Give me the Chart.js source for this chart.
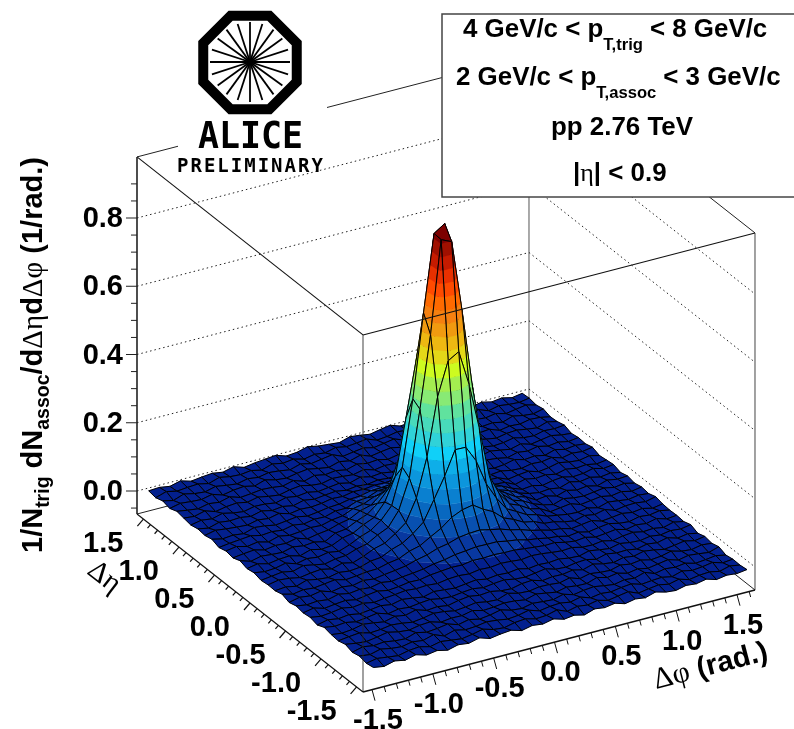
<!DOCTYPE html>
<html>
<head>
<meta charset="utf-8">
<title>ALICE preliminary correlation</title>
<script src="https://cdn.jsdelivr.net/npm/chart.js@4"></script>
<style>
	html, body { margin: 0; padding: 0; background: #fff; }
	canvas { display: block; }
</style>
</head>
<body>
<canvas id="surface-chart" width="794" height="729"></canvas>
<script>
//////////////////////////////////////////
// DATA (background noise is an estimate)
//////////////////////////////////////////

// Delta phi of the mesh nodes (rad.)
var phi_nodes = [-1.535,-1.448,-1.361,-1.274,-1.187,-1.1,-1.012,-0.925,-0.838,-0.751,-0.664,-0.577,-0.49,-0.403,-0.316,-0.229,-0.142,-0.055,0.032,0.116,0.199,0.283,0.366,0.45,0.533,0.617,0.7,0.784,0.867,0.951,1.034,1.118,1.201,1.285,1.368,1.452,1.535];
// Delta eta of the mesh nodes
var eta_nodes = [-1.67,-1.571,-1.472,-1.374,-1.275,-1.176,-1.077,-0.978,-0.88,-0.781,-0.682,-0.583,-0.484,-0.386,-0.287,-0.188,-0.089,0.01,0.108,0.207,0.306,0.405,0.504,0.602,0.701,0.8,0.899,0.998,1.096,1.195,1.294,1.393,1.492];
// Yield at each node in units of 0.001 / rad. One row per eta node, one column per phi node
var yield_rows = [
	[14,9,17,11,19,10,15,8,16,12,20,10,15,18,9,16,12,19,10,14,7,17,13,18,9,15,11,20,12,9,16,13,19,10,15,12,16],
	[10,16,12,8,15,18,10,17,13,9,14,21,12,9,16,19,11,13,21,9,16,12,18,10,15,20,8,13,17,11,18,9,14,16,10,18,13],
	[15,11,19,13,10,16,12,21,9,18,11,13,18,15,10,13,20,10,15,17,12,19,9,14,11,16,19,10,13,15,9,18,12,15,20,11,14],
	[10,18,13,16,11,9,19,12,15,20,10,17,10,14,21,12,9,16,13,11,19,10,15,18,13,9,15,12,21,10,16,13,17,9,12,16,10],
	[17,12,9,14,20,13,10,16,18,9,13,12,19,11,13,17,15,10,19,14,9,16,12,11,21,13,18,10,15,9,14,19,10,16,13,9,18],
	[11,15,18,10,12,17,14,9,13,19,16,10,13,18,12,10,21,13,11,16,15,12,19,9,16,12,10,18,13,17,10,13,20,12,9,15,12],
	[13,9,12,19,15,10,18,13,21,11,14,9,16,20,15,18,12,10,17,19,10,14,13,18,11,20,13,9,16,12,19,15,9,13,18,11,16],
	[18,13,16,10,14,19,9,15,12,16,19,13,11,15,18,13,17,20,14,12,16,21,12,10,15,17,10,18,13,14,9,16,12,19,10,15,9],
	[9,16,11,15,9,13,17,12,19,15,10,18,15,12,16,20,14,18,16,20,13,17,15,18,13,11,19,14,10,17,12,10,15,11,16,13,18],
	[15,10,13,18,12,16,10,14,17,21,18,20,17,22,24,21,26,24,28,26,23,27,25,21,18,20,13,12,16,9,15,18,12,14,9,17,11],
	[12,18,9,13,16,10,15,19,13,16,21,20,26,29,32,31,36,35,37,35,35,31,28,25,26,19,15,18,11,14,18,10,16,12,19,10,13],
	[16,11,14,10,18,12,16,13,20,15,20,23,27,34,38,45,48,52,51,51,45,41,33,29,23,20,13,17,10,15,19,12,9,16,13,18,12],
	[10,17,13,19,9,15,11,18,14,19,23,28,37,44,55,61,71,75,77,70,64,54,47,37,30,22,19,11,15,19,10,13,17,12,16,9,14],
	[18,10,15,12,16,20,12,15,19,20,28,33,47,55,73,90,114,128,134,114,99,73,61,45,39,26,23,15,10,18,13,20,10,15,16,12,19],
	[12,15,9,19,13,10,17,13,16,26,29,44,54,74,100,158,218,288,287,240,165,115,76,60,43,35,23,18,13,11,16,9,18,14,10,15,12],
	[13,19,16,10,15,18,11,20,13,24,38,46,66,90,154,266,434,532,551,448,314,164,103,66,54,36,29,12,16,20,10,14,18,12,17,10,15],
	[10,14,18,12,21,15,9,16,18,29,36,54,68,110,196,390,600,871,857,650,425,230,117,78,53,43,27,16,9,19,13,11,15,19,13,17,10],
	[16,11,13,20,10,17,13,19,14,25,40,51,73,108,212,404,648,873,894,682,458,236,128,75,58,39,31,14,18,10,19,12,16,9,18,13,15],
	[12,18,10,15,17,9,19,12,15,29,35,52,65,102,169,332,500,650,655,545,358,198,105,73,51,41,26,17,12,15,10,20,13,18,11,15,9],
	[19,9,16,13,11,19,14,17,10,27,31,46,58,82,116,198,296,386,390,323,207,134,85,66,45,38,24,13,16,9,15,18,11,13,20,12,16],
	[11,15,18,10,15,13,20,10,16,20,30,36,52,60,85,108,150,172,181,149,120,86,68,50,42,27,25,11,19,13,16,10,17,12,15,9,13],
	[15,20,12,17,9,18,12,15,19,17,25,29,42,48,61,69,84,91,96,83,76,59,52,39,34,23,22,10,15,18,9,13,20,14,11,17,10],
	[9,13,16,19,12,15,11,18,13,19,18,27,27,39,42,54,55,60,56,59,51,47,37,34,24,23,15,18,12,10,16,14,19,10,16,13,18],
	[17,10,13,9,19,16,10,14,18,12,16,21,23,29,31,38,39,42,40,41,36,33,27,25,20,15,16,10,13,20,12,15,9,18,11,15,12],
	[12,19,15,12,10,17,13,20,11,16,14,17,23,21,27,26,30,29,32,29,29,24,21,22,14,16,11,18,15,9,17,13,19,12,16,10,14],
	[15,9,18,14,16,11,19,12,16,10,18,13,17,20,15,19,16,21,18,20,16,19,14,17,10,18,13,12,20,15,10,18,9,14,19,13,10],
	[10,16,12,20,13,9,16,15,10,18,13,17,11,15,19,12,21,14,17,12,18,13,20,10,15,18,9,14,16,11,13,19,12,10,17,15,18],
	[14,11,19,9,15,18,12,19,13,9,16,20,13,10,17,15,12,19,10,15,13,20,11,16,14,9,18,12,21,15,10,16,18,13,9,19,12],
	[18,13,9,16,12,20,10,13,17,15,11,19,9,18,12,16,10,19,13,16,9,15,18,12,10,19,15,11,13,17,20,9,14,12,18,16,10],
	[10,17,14,12,19,9,15,18,11,21,13,10,16,20,14,9,18,12,21,10,15,19,13,17,9,14,20,16,10,18,12,15,9,19,13,10,17],
	[16,9,20,13,10,18,13,9,16,12,18,15,10,19,12,17,22,9,14,18,11,16,21,10,13,18,12,15,19,9,16,13,18,10,15,20,12],
	[9,19,12,15,17,10,20,14,12,16,9,19,13,17,9,15,11,19,13,16,20,9,12,18,15,10,19,13,9,16,12,21,10,17,13,11,16],
	[13,15,10,18,9,13,16,11,19,9,14,17,20,10,13,21,15,12,9,18,15,10,16,21,11,14,9,18,12,15,10,13,19,12,16,9,14]
];
var z_tick_labels = ["0.0","0.2","0.4","0.6","0.8"];
var eta_tick_labels = ["-1.5","-1.0","-0.5","0.0","0.5","1.0","1.5"];
var phi_tick_labels = ["-1.5","-1.0","-0.5","0.0","0.5","1.0","1.5"];

// Colour bands of the surface
var band_edges = [0.035,0.0725,0.11,0.1475,0.185,0.2225,0.26,0.2975,0.335,0.3725,0.41,0.4475,0.485,0.5225,0.56,0.5975,0.635,0.6725,0.71,0.7475,0.785,0.8225,0.86];
var band_colors = ["#03208e","#0838a0","#0850b0","#0868c0","#0a80d0","#0c96dc","#0eaee8","#10d0f8","#30d2d8","#48dabb","#60e29e","#88ea75","#a4ee50","#cdfb20","#e4d818","#eeb812","#f09a10","#f58010","#ff6a00","#ff4a00","#e83000","#c51b00","#a01000","#7d0000"];

//////////////////////////////////////////
// PROJECTION
//////////////////////////////////////////
var phi_min = -1.574, phi_max = 1.648;
var eta_min = -1.59, eta_max = 1.59;
var z_min = -0.0674, z_max = 0.979;
var SANS = '"Liberation Sans", Arial, sans-serif';
var SERIF = '"Liberation Serif", serif';

// Oblique view of the box, gives a point in the 794x729 view plane
function project(phi,eta,z) {
	return {
		x: 363 + (phi - phi_min)*121.66 - (eta - eta_min)*71.07,
		y: 692 - (phi - phi_min)*31.66 - (eta - eta_min)*55.97 - (z - z_min)*341.25
	};
}

// Keep the part of a node polygon that lies on the wanted side of a z level
function clipPolygon(poly,level,keepAbove) {
	var out = [];
	for (var i = 0; i < poly.length; i++) {
		var a = poly[i];
		var b = poly[(i + 1) % poly.length];
		var a_in = keepAbove ? a.z >= level : a.z <= level;
		var b_in = keepAbove ? b.z >= level : b.z <= level;
		if (a_in) out.push(a);
		if (a_in !== b_in) {
			var t = (level - a.z)/(b.z - a.z);
			out.push({ phi: a.phi + t*(b.phi - a.phi), eta: a.eta + t*(b.eta - a.eta), z: level });
		}
	}
	return out;
}

function toPlane(poly) {
	return poly.map(function(n) { return project(n.phi,n.eta,n.z); });
}

function node(i,j) {
	return { phi: phi_nodes[i], eta: eta_nodes[j], z: yield_rows[j][i]/1000 };
}

//////////////////////////////////////////
// DATASETS, far cells first then reversed since Chart.js paints dataset 0 last
//////////////////////////////////////////
var painted = [];
for (var i = phi_nodes.length - 2; i >= 0; i--) {
	for (var j = eta_nodes.length - 2; j >= 0; j--) {
		var quad = [node(i,j),node(i + 1,j),node(i + 1,j + 1),node(i,j + 1)];
		for (var b = 0; b < band_colors.length; b++) {
			var slice = quad;
			if (b > 0) slice = clipPolygon(slice,band_edges[b - 1],true);
			if (b < band_edges.length && slice.length) slice = clipPolygon(slice,band_edges[b],false);
			if (slice.length < 3) continue;
			var corners = toPlane(slice);
			corners.push(corners[0]);
			painted.push({
				data: corners,
				fill: "shape",
				backgroundColor: band_colors[b],
				borderColor: band_colors[b],
				borderWidth: 0.35,
				pointRadius: 0,
				tension: 0
			});
		}
		var outline = toPlane(quad);
		outline.push(outline[0]);
		painted.push({
			data: outline,
			fill: false,
			borderColor: "#000",
			borderWidth: 1,
			pointRadius: 0,
			tension: 0
		});
	}
}
painted.reverse();

//////////////////////////////////////////
// DRAW HELPERS
//////////////////////////////////////////
function viewLine(chart,ctx,p,q) {
	ctx.beginPath();
	ctx.moveTo(chart.scales.x.getPixelForValue(p.x),chart.scales.y.getPixelForValue(p.y));
	ctx.lineTo(chart.scales.x.getPixelForValue(q.x),chart.scales.y.getPixelForValue(q.y));
	ctx.stroke();
}

function offset(p,dx,dy) {
	return { x: p.x + dx, y: p.y + dy };
}

// Text made of runs: [text, font, baseline shift]
function drawRuns(ctx,runs,x,y) {
	ctx.textAlign = "left";
	ctx.textBaseline = "alphabetic";
	for (var i = 0; i < runs.length; i++) {
		ctx.font = runs[i][1];
		ctx.fillText(runs[i][0],x,y + (runs[i][2] || 0));
		x += ctx.measureText(runs[i][0]).width;
	}
	return x;
}

var backBox = {
	id: "backBox",
	beforeDatasetsDraw: function(chart) {
		var ctx = chart.ctx;
		ctx.save();
		// floor edges and the back walls
		ctx.strokeStyle = "#222";
		ctx.lineWidth = 1;
		viewLine(chart,ctx,project(phi_min,eta_max,z_min),project(phi_max,eta_max,z_min));
		viewLine(chart,ctx,project(phi_max,eta_max,z_min),project(phi_max,eta_min,z_min));
		viewLine(chart,ctx,project(phi_min,eta_max,z_max),project(phi_max,eta_max,z_max));
		viewLine(chart,ctx,project(phi_max,eta_max,z_max),project(phi_max,eta_min,z_max));
		ctx.strokeStyle = "#555";
		viewLine(chart,ctx,project(phi_max,eta_max,z_min),project(phi_max,eta_max,z_max));
		// dotted levels
		ctx.strokeStyle = "#222";
		ctx.setLineDash([1.5,3]);
		for (var i = 0; i < z_tick_labels.length; i++) {
			var z = parseFloat(z_tick_labels[i]);
			viewLine(chart,ctx,project(phi_min,eta_max,z),project(phi_max,eta_max,z));
			viewLine(chart,ctx,project(phi_max,eta_max,z),project(phi_max,eta_min,z));
		}
		ctx.restore();
	}
};

var frontBox = {
	id: "frontBox",
	afterDatasetsDraw: function(chart) {
		var ctx = chart.ctx;
		ctx.save();
		// front edges run over the surface
		ctx.strokeStyle = "#111";
		ctx.lineWidth = 1.1;
		viewLine(chart,ctx,project(phi_min,eta_max,z_max),project(phi_min,eta_min,z_max));
		viewLine(chart,ctx,project(phi_min,eta_min,z_max),project(phi_max,eta_min,z_max));
		ctx.strokeStyle = "rgba(40,40,40,0.8)";
		viewLine(chart,ctx,project(phi_min,eta_min,z_min),project(phi_min,eta_min,z_max));
		viewLine(chart,ctx,project(phi_max,eta_min,z_min),project(phi_max,eta_min,z_max));

		// z axis
		ctx.strokeStyle = "#222";
		ctx.lineWidth = 1.6;
		viewLine(chart,ctx,project(phi_min,eta_max,z_min),project(phi_min,eta_max,z_max));
		ctx.lineWidth = 1;
		for (var t = -1; t <= 18; t++) {
			var p = project(phi_min,eta_max,t*0.05);
			viewLine(chart,ctx,p,offset(p,(t % 4 === 0) ? -11 : -6,0));
		}
		// eta axis
		ctx.strokeStyle = "#111";
		ctx.lineWidth = 1.2;
		viewLine(chart,ctx,project(phi_min,eta_max,z_min),project(phi_min,eta_min,z_min));
		for (var e = -15; e <= 15; e++) {
			var q = project(phi_min,e*0.1,z_min);
			var major_e = (e % 5 === 0);
			viewLine(chart,ctx,q,offset(q,major_e ? -6 : -3,major_e ? 7 : 3.5));
		}
		// phi axis
		ctx.lineWidth = 1.6;
		viewLine(chart,ctx,project(phi_min,eta_min,z_min),project(phi_max,eta_min,z_min));
		ctx.lineWidth = 1;
		for (var f = -15; f <= 16; f++) {
			var r = project(f*0.1,eta_min,z_min);
			var major_f = (f % 5 === 0);
			viewLine(chart,ctx,r,offset(r,major_f ? 3 : 1.5,major_f ? 11 : 5.5));
		}

		// tick labels
		ctx.fillStyle = "#000";
		ctx.font = "bold 29px " + SANS;
		ctx.textBaseline = "middle";
		ctx.textAlign = "right";
		for (var i = 0; i < z_tick_labels.length; i++) {
			var pz = project(phi_min,eta_max,parseFloat(z_tick_labels[i]));
			ctx.fillText(z_tick_labels[i],pz.x - 14,pz.y + 1);
		}
		for (var i = 0; i < eta_tick_labels.length; i++) {
			var pe = project(phi_min,parseFloat(eta_tick_labels[i]),z_min);
			ctx.fillText(eta_tick_labels[i],pe.x - 20,pe.y + 25);
		}
		ctx.textAlign = "center";
		for (var i = 0; i < phi_tick_labels.length; i++) {
			var pf = project(parseFloat(phi_tick_labels[i]),eta_min,z_min);
			ctx.fillText(phi_tick_labels[i],pf.x + 6,pf.y + 31);
		}

		// axis titles
		var bold29 = "bold 29px " + SANS;
		var sub19 = "bold 19.5px " + SANS;
		var greek29 = "29px " + SERIF;
		ctx.save();
		ctx.translate(42,553);
		ctx.rotate(-Math.PI/2);
		drawRuns(ctx,[
			["1/N",bold29],["trig",sub19,7],[" dN",bold29],["assoc",sub19,7],["/d",bold29],
			["\u0394\u03b7",greek29],["d",bold29],["\u0394\u03c6",greek29],[" (1/rad.)",bold29]
		],0,0);
		ctx.restore();

		ctx.save();
		ctx.translate(86,573);
		ctx.rotate(38*Math.PI/180);
		drawRuns(ctx,[["\u0394\u03b7",greek29]],0,0);
		ctx.restore();

		ctx.save();
		ctx.translate(656,689);
		ctx.rotate(-14.6*Math.PI/180);
		drawRuns(ctx,[["\u0394\u03c6","30px " + SERIF],[" (rad.)",bold29]],0,0);
		ctx.restore();

		// logo, sits on its own white patch
		ctx.fillStyle = "#fff";
		ctx.fillRect(178,0,149,168);
		ctx.strokeStyle = "#000";
		ctx.lineWidth = 10;
		ctx.beginPath();
		for (var k = 0; k < 8; k++) {
			var ang = (22.5 + 45*k)*Math.PI/180;
			ctx[k ? "lineTo" : "moveTo"](250 + 50.6*Math.cos(ang),62.5 + 50.6*Math.sin(ang));
		}
		ctx.closePath();
		ctx.stroke();
		ctx.lineWidth = 1.8;
		for (var k = 0; k < 20; k++) {
			var ray = k*18*Math.PI/180;
			ctx.beginPath();
			ctx.moveTo(250,62);
			ctx.lineTo(250 + 40*Math.cos(ray),62 + 40*Math.sin(ray));
			ctx.stroke();
		}
		ctx.fillStyle = "#000";
		ctx.textBaseline = "alphabetic";
		ctx.textAlign = "left";
		ctx.font = 'bold 38px "DejaVu Sans Mono", monospace';
		ctx.fillText("ALICE",198,148,105);
		ctx.font = 'bold 19px "DejaVu Sans Mono", monospace';
		ctx.letterSpacing = "2px";
		ctx.fillText("PRELIMINARY",177,172,149);
		ctx.letterSpacing = "0px";

		// text box, runs off the right edge of the page
		ctx.fillStyle = "#fff";
		ctx.fillRect(442,14,360,183);
		ctx.strokeStyle = "#444";
		ctx.lineWidth = 1.5;
		ctx.strokeRect(442,14,360,183);
		ctx.fillStyle = "#000";
		var big = "bold 25.9px " + SANS;
		var small = "bold 16.6px " + SANS;
		var x1 = drawRuns(ctx,[["4 GeV/c < p",big],["T,trig",small,13]],463,37);
		drawRuns(ctx,[["< 8 GeV/c",big]],x1 + 7,37);
		var x2 = drawRuns(ctx,[["2 GeV/c < p",big],["T,assoc",small,13]],456,85);
		drawRuns(ctx,[["< 3 GeV/c",big]],x2 + 7,85);
		drawRuns(ctx,[["pp 2.76 TeV",big]],551,135);
		drawRuns(ctx,[["|",big],["\u03b7","26px " + SERIF],["| < 0.9",big]],573,181);
		ctx.restore();
	}
};

//////////////////////////////////////////
// CHART
//////////////////////////////////////////
var surface_ctx = document.getElementById("surface-chart");
var surface_chart = new Chart(surface_ctx,{
	type: "line",
	data: { datasets: painted },
	plugins: [backBox,frontBox],
	options: {
		responsive: false,
		animation: false,
		parsing: false,
		normalized: false,
		events: [],
		layout: { padding: 0 },
		plugins: { legend: { display: false }, tooltip: { enabled: false } },
		scales: {
			x: { type: "linear", display: false, min: 0, max: 794 },
			y: { type: "linear", display: false, min: 0, max: 729, reverse: true }
		}
	}
});
</script>
</body>
</html>
